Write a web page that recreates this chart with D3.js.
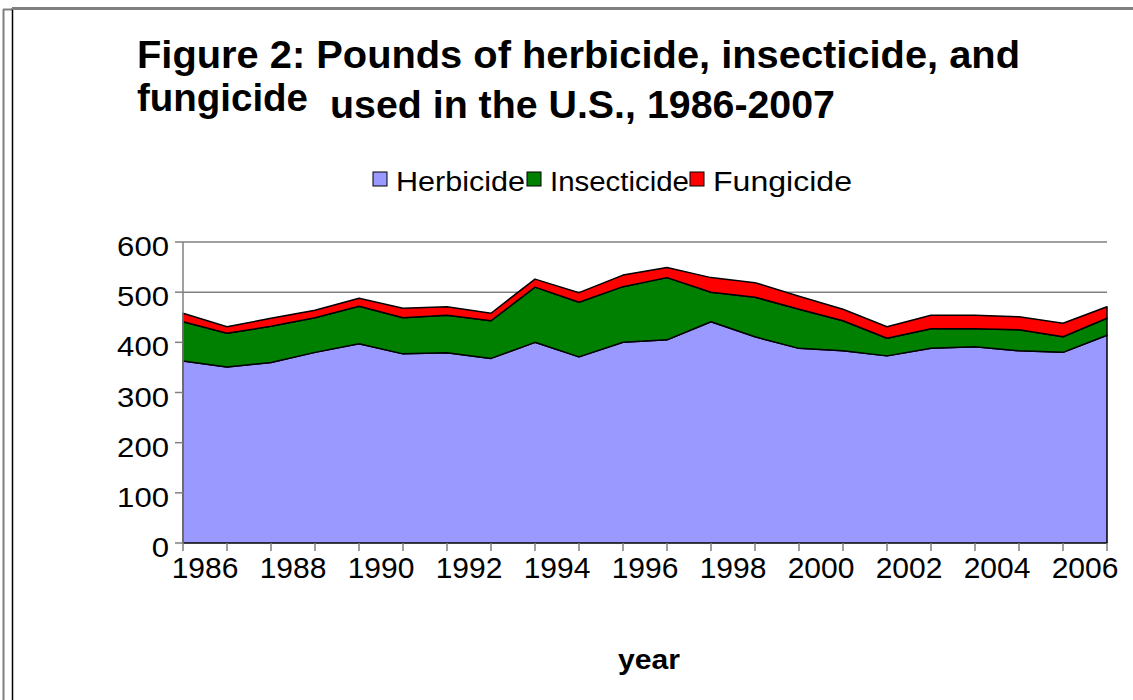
<!DOCTYPE html>
<html>
<head>
<meta charset="utf-8">
<script src="https://cdn.jsdelivr.net/npm/d3@7"></script>
<style>
  body { margin: 0; background: #fff; }
  text { font-family: "Liberation Sans", Arial, sans-serif; }
</style>
</head>
<body>
<svg id="chart" width="1133" height="700"></svg>
<script>
    // values (millions of pounds)
    var years = [1986, 1987, 1988, 1989, 1990, 1991, 1992, 1993, 1994, 1995, 1996,
                 1997, 1998, 1999, 2000, 2001, 2002, 2003, 2004, 2005, 2006, 2007];
    var herbicide   = [363, 351, 360, 380, 397, 377, 379, 368, 400, 371, 400,
                       405, 441, 411, 388, 383, 373, 388, 391, 383, 380, 414];
    var insecticide = [78, 67, 72, 69, 75, 72, 75, 75, 110, 109, 111,
                       124, 59, 79, 78, 60, 35, 39, 36, 42, 31, 34];
    var fungicide   = [17, 13, 16, 15, 16, 19, 17, 15, 16, 19, 23,
                       20, 29, 29, 26, 23, 23, 27, 27, 26, 27, 23];
    var yTicks = [0, 100, 200, 300, 400, 500, 600];
    var xLabels = [1986, 1988, 1990, 1992, 1994, 1996, 1998, 2000, 2002, 2004, 2006];
    var seriesNames = ["Herbicide", "Insecticide", "Fungicide"];
    var seriesColors = ["#9999ff", "#008000", "#ff0000"];

    var svg = d3.select("#chart");

    // frame lines
    svg.append("line").attr("x1", 3.5).attr("y1", 9).attr("x2", 3.5).attr("y2", 700)
        .attr("stroke", "#808080").attr("stroke-width", 2);
    svg.append("line").attr("x1", 3).attr("y1", 9.5).attr("x2", 12).attr("y2", 9.5)
        .attr("stroke", "#808080").attr("stroke-width", 2);
    svg.append("line").attr("x1", 12.5).attr("y1", 8).attr("x2", 12.5).attr("y2", 700)
        .attr("stroke", "#000").attr("stroke-width", 1.5);
    svg.append("line").attr("x1", 12).attr("y1", 8.5).attr("x2", 1133).attr("y2", 8.5)
        .attr("stroke", "#808080").attr("stroke-width", 3);

    var data = years.map(function (y, i) {
        return {year: y, Herbicide: herbicide[i], Insecticide: insecticide[i], Fungicide: fungicide[i]};
    });

    var x = d3.scaleLinear().domain([0, years.length - 1]).range([183, 1107]);
    var y = d3.scaleLinear().domain([0, 600]).range([543, 242]);
    var step = x(1) - x(0);

    // gridlines
    svg.append("g").selectAll("line")
        .data(yTicks.slice(1))
        .enter().append("line")
        .attr("x1", 183).attr("x2", 1107)
        .attr("y1", function (d) {return y(d);})
        .attr("y2", function (d) {return y(d);})
        .attr("stroke", "#808080").attr("stroke-width", 1.5);

    var stack = d3.stack().keys(seriesNames);
    var layers = stack(data);

    var area = d3.area()
        .x(function (d, i) {return x(i);})
        .y0(function (d) {return y(d[0]);})
        .y1(function (d) {return y(d[1]);});

    svg.append("g").selectAll("path")
        .data(layers)
        .enter().append("path")
        .attr("d", area)
        .attr("fill", function (d, i) {return seriesColors[i];})
        .attr("stroke", "#000")
        .attr("stroke-width", 1.5)
        .attr("stroke-linejoin", "round");

    // y axis
    var yAxis = svg.append("g");
    yAxis.append("line").attr("x1", 183).attr("x2", 183).attr("y1", y(600)).attr("y2", y(0))
        .attr("stroke", "#808080").attr("stroke-width", 1.5);
    yAxis.selectAll("line.tk")
        .data(yTicks)
        .enter().append("line")
        .attr("class", "tk")
        .attr("x1", 175).attr("x2", 183)
        .attr("y1", function (d) {return y(d);})
        .attr("y2", function (d) {return y(d);})
        .attr("stroke", "#808080").attr("stroke-width", 1.5);
    yAxis.selectAll("text")
        .data(yTicks)
        .enter().append("text")
        .attr("x", 169)
        .attr("y", function (d) {return y(d) + 14;})
        .attr("text-anchor", "end")
        .attr("font-size", 27)
        .attr("textLength", function (d) {return String(d).length * 17.3;})
        .attr("lengthAdjust", "spacingAndGlyphs")
        .text(function (d) {return d;});

    // x axis
    var xAxis = svg.append("g");
    xAxis.selectAll("line")
        .data(years)
        .enter().append("line")
        .attr("x1", function (d, i) {return x(i);})
        .attr("x2", function (d, i) {return x(i);})
        .attr("y1", 543).attr("y2", 551)
        .attr("stroke", "#808080").attr("stroke-width", 1.5);
    xAxis.selectAll("text")
        .data(xLabels)
        .enter().append("text")
        .attr("x", function (d) {return x(years.indexOf(d)) + step / 2;})
        .attr("y", 578)
        .attr("text-anchor", "middle")
        .attr("font-size", 30)
        .text(function (d) {return d;});

    // title
    svg.append("text").attr("x", 137).attr("y", 68)
        .attr("font-size", 38).attr("font-weight", "bold")
        .attr("textLength", 883).attr("lengthAdjust", "spacingAndGlyphs")
        .text("Figure 2: Pounds of herbicide, insecticide, and");
    svg.append("text").attr("x", 137).attr("y", 111)
        .attr("font-size", 38).attr("font-weight", "bold")
        .attr("textLength", 171).attr("lengthAdjust", "spacingAndGlyphs")
        .text("fungicide");
    svg.append("text").attr("x", 330).attr("y", 118)
        .attr("font-size", 38).attr("font-weight", "bold")
        .attr("textLength", 505).attr("lengthAdjust", "spacingAndGlyphs")
        .text("used in the U.S., 1986-2007");

    // legend
    var legendX = [373, 527, 690];
    var legendW = [129, 139, 139];
    var legend = svg.append("g").selectAll("g")
        .data(seriesNames)
        .enter().append("g");
    legend.append("rect")
        .attr("x", function (d, i) {return legendX[i];})
        .attr("y", 172).attr("width", 14).attr("height", 14)
        .attr("fill", function (d, i) {return seriesColors[i];})
        .attr("stroke", "#000").attr("stroke-width", 1);
    legend.append("text")
        .attr("x", function (d, i) {return legendX[i] + 23;})
        .attr("y", 191)
        .attr("font-size", 27)
        .attr("textLength", function (d, i) {return legendW[i];})
        .attr("lengthAdjust", "spacingAndGlyphs")
        .text(function (d) {return d;});

    // axis title
    svg.append("text").attr("x", 649).attr("y", 669)
        .attr("text-anchor", "middle")
        .attr("font-size", 27).attr("font-weight", "bold")
        .attr("textLength", 62).attr("lengthAdjust", "spacingAndGlyphs")
        .text("year");
</script>
</body>
</html>
